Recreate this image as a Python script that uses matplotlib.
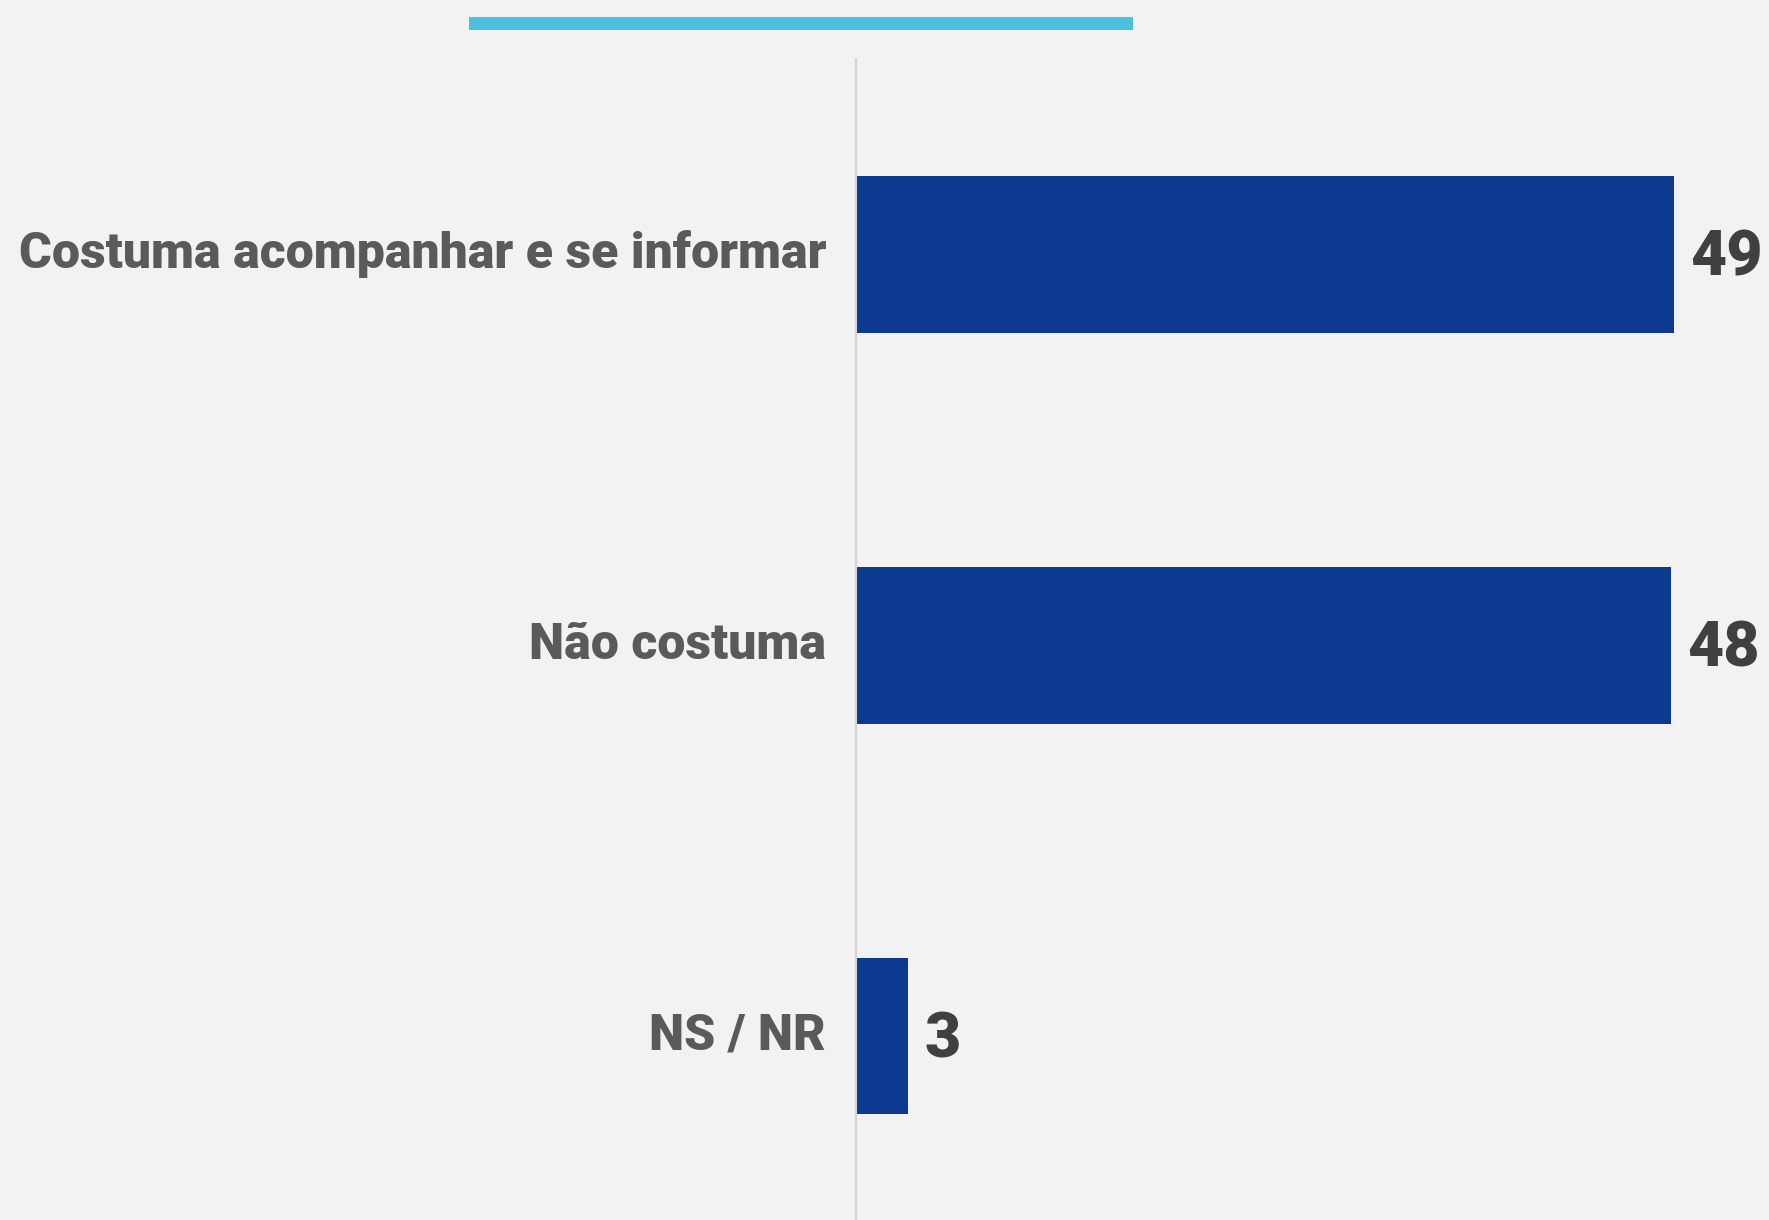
import matplotlib

matplotlib.use("Agg")
import matplotlib.pyplot as plt
from matplotlib.patches import Rectangle

# values; labels show the rounded figure
categories = ["Costuma acompanhar e se informar", "Não costuma", "NS / NR"]
values = [48.6, 48.4, 3.1]
value_labels = ["49", "48", "3"]

BG = "#f2f2f2"
BAR = "#0c3a91"
LABEL_GRAY = "#5a5a5a"
NUM_GRAY = "#404040"
ACCENT = "#4bbfdf"

plt.rcParams["font.family"] = ["Roboto", "DejaVu Sans"]

fig = plt.figure(figsize=(17.69, 12.20), dpi=100, facecolor=BG)
ax = fig.add_axes([856 / 1769, 0.0, 1 - 856 / 1769, 1 - 59 / 1220], facecolor=BG)

y = list(range(len(categories)))
ax.barh(y, values, height=0.4, color=BAR)
ax.set_ylim(2.47, -0.5)
ax.set_xlim(0, 54.25)

for yi, v, lab in zip(y, values, value_labels):
    ax.annotate(
        lab,
        (v, yi),
        xytext=(12, -3),
        textcoords="offset points",
        va="center",
        ha="left",
        fontsize=45,
        fontweight=900,
        color=NUM_GRAY,
    )

ax.set_yticks(y, categories)
ax.tick_params(axis="y", length=0, pad=21.5, labelsize=36, labelcolor=LABEL_GRAY)
for t in ax.get_yticklabels():
    t.set_fontweight(900)
    t.set_verticalalignment("center")
ax.set_xticks([])
for side in ["top", "right", "bottom"]:
    ax.spines[side].set_visible(False)
ax.spines["left"].set_color("#d4d4d4")
ax.spines["left"].set_linewidth(1.5)

# accent strip at the top
fig.add_artist(
    Rectangle(
        (469 / 1769, 1 - 30 / 1220),
        (1133 - 469) / 1769,
        13 / 1220,
        transform=fig.transFigure,
        color=ACCENT,
        linewidth=0,
    )
)

fig.savefig("out.png", dpi=100, facecolor=BG)
